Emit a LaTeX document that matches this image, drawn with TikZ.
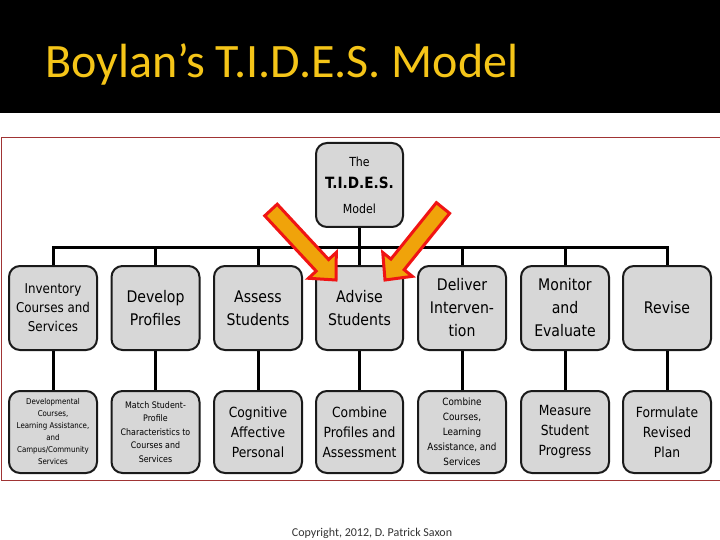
\documentclass[tikz,border=0pt]{standalone}
\usepackage{fontspec}
\usetikzlibrary{calc}
\newfontfamily\titlefont{Carlito}
\newfontfamily\boxfont{DejaVu Sans}[FakeStretch=0.88]
\newcommand\fsz[2]{\fontsize{#1}{#2}\selectfont}
\definecolor{titleyellow}{HTML}{F5C518}
\definecolor{framered}{HTML}{A03434}
\definecolor{boxgray}{HTML}{D7D7D7}
\definecolor{boxborder}{HTML}{1A1A1A}
\definecolor{arrowfill}{HTML}{F0A30A}
\definecolor{arrowred}{HTML}{F01414}
\tikzset{
  tbox/.style={draw=boxborder, fill=boxgray, line width=2pt, rounded corners=11pt,
    minimum width=88pt, minimum height=84pt, inner sep=1pt, align=center,
    font=\boxfont\fsz{16}{23}},
  rowtwo/.style={tbox, minimum height=82pt},
  conn/.style={draw=black, line width=3pt},
  fatarrow/.style={fill=arrowfill, draw=arrowred, line width=3pt, line join=miter}
}
\begin{document}
\begin{tikzpicture}[x=1pt,y=-1pt]
\useasboundingbox (0,0) rectangle (720,540);
\fill[white] (0,0) rectangle (720,540);
\fill[black] (0,0) rectangle (720,113);
\node[anchor=base west, text=titleyellow, inner sep=0, font=\titlefont\fsz{48}{56}] (title) at (45,78) {Boylan’s T.I.D.E.S. Model};
\draw[framered, line width=1pt] (720,138) -- (1,138) -- (1,480) -- (720,480);

% top node
\node[tbox, minimum width=87pt] (top) at (359.5,185) {{\fsz{12.5}{20}The}\\[-1pt]{\bfseries\fsz{15.5}{20}T.I.D.E.S.}\\[2pt]{\fsz{12.5}{20}Model}};

% row 1
\node[tbox, font=\boxfont\fsz{13.5}{19}] (n1) at (53,308) {Inventory\\Courses and\\Services};
\node[tbox] (n2) at (155.5,308) {Develop\\Profiles};
\node[tbox] (n3) at (258,308) {Assess\\Students};
\node[tbox, minimum width=87pt] (n4) at (359.5,308) {Advise\\Students};
\node[tbox] (n5) at (462,308) {Deliver\\Interven-\\tion};
\node[tbox] (n6) at (565,308) {Monitor\\and\\Evaluate};
\node[tbox] (n7) at (667,308) {Revise};

% row 2
\node[rowtwo, font=\boxfont\fsz{8}{12}] (m1) at (53,432) {Developmental\\Courses,\\Learning Assistance,\\and\\Campus/Community\\Services};
\node[rowtwo, font=\boxfont\fsz{9}{13.5}] (m2) at (155.5,432) {Match Student-\\Profile\\Characteristics to\\Courses and\\Services};
\node[rowtwo, font=\boxfont\fsz{14}{20}] (m3) at (258,432) {Cognitive\\Affective\\Personal};
\node[rowtwo, minimum width=87pt, font=\boxfont\fsz{14}{20}] (m4) at (359.5,432) {Combine\\Profiles and\\Assessment};
\node[rowtwo, font=\boxfont\fsz{10}{15}] (m5) at (462,432) {Combine\\Courses,\\Learning\\Assistance, and\\Services};
\node[rowtwo, font=\boxfont\fsz{14}{20}] (m6) at (565,432) {Measure\\Student\\Progress};
\node[rowtwo, font=\boxfont\fsz{14}{20}] (m7) at (667,432) {Formulate\\Revised\\Plan};

% connectors
\coordinate (bus) at (0,247);
\draw[conn] (top.south) -- (n4.north);
\draw[conn, line join=miter] (n1.north) -- (n1.north |- bus) -- (n7.north |- bus) -- (n7.north);
\foreach \k in {2,3,5,6} { \draw[conn] (n\k.north) -- (n\k.north |- bus); }
\foreach \k in {1,...,7} { \draw[conn] (n\k.south) -- (m\k.north); }

% highlight arrows
\coordinate (aT) at (271,210);
\coordinate (aP) at (336,280);
\coordinate (bT) at (443,208);
\coordinate (bP) at (385,280);
\coordinate (aB) at ($(aP)!20pt!(aT)$);
\coordinate (bB) at ($(bP)!20pt!(bT)$);
\filldraw[fatarrow] ($(aT)!8.5pt!90:(aP)$) -- ($(aB)!8.5pt!-90:(aT)$) -- ($(aB)!19pt!-90:(aT)$) -- (aP)
  -- ($(aB)!19pt!90:(aT)$) -- ($(aB)!8.5pt!90:(aT)$) -- ($(aT)!8.5pt!-90:(aP)$) -- cycle;
\filldraw[fatarrow] ($(bT)!8.5pt!90:(bP)$) -- ($(bB)!8.5pt!-90:(bT)$) -- ($(bB)!19pt!-90:(bT)$) -- (bP)
  -- ($(bB)!19pt!90:(bT)$) -- ($(bB)!8.5pt!90:(bT)$) -- ($(bT)!8.5pt!-90:(bP)$) -- cycle;

\node[font=\titlefont\fsz{12}{14}, text=black!80] (copy) at (372,533) {Copyright, 2012, D. Patrick Saxon};
\end{tikzpicture}
\end{document}
